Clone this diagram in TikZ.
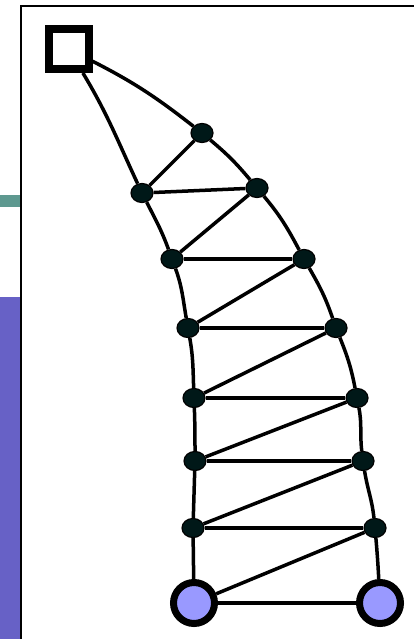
\documentclass[tikz,border=0pt]{standalone}
\usetikzlibrary{shapes.geometric}

\definecolor{stripteal}{RGB}{94,153,144}
\definecolor{strippurple}{RGB}{103,97,198}
\definecolor{jointfill}{RGB}{0,24,24}
\definecolor{supportfill}{RGB}{153,153,255}

\tikzset{
  joint/.style={ellipse,draw=black,line width=1.2bp,fill=jointfill,
    minimum width=22bp,minimum height=19bp,inner sep=0pt},
  support/.style={circle,draw=black,line width=7bp,fill=supportfill,
    minimum size=41bp,inner sep=0pt},
  fixed/.style={rectangle,draw=black,line width=8bp,fill=white,
    minimum size=40bp,inner sep=0pt},
  member/.style={black,line width=3.5bp},
}

\begin{document}
\begin{tikzpicture}[x=1bp,y=-1bp]
  \path[use as bounding box] (0,0) rectangle (414,639);
  \fill[white] (0,0) rectangle (414,639);

  % strips on the left and frame
  \fill[stripteal] (0,195) rectangle (20,207);
  \fill[strippurple] (0,297) rectangle (20,639);
  \draw[black,line width=2bp] (21,639) -- (21,6.5) -- (414,6.5);

  % fixed end
  \node[fixed] (sq) at (68.5,49) {};

  % left chord
  \node[joint] (l1) at (142,193) {};
  \node[joint] (l2) at (172,259) {};
  \node[joint] (l3) at (188,328) {};
  \node[joint] (l4) at (194,398) {};
  \node[joint] (l5) at (195,461) {};
  \node[joint] (l6) at (193,528) {};
  \node[support] (bl) at (194,603) {};

  % right chord
  \node[joint] (r1) at (202,133) {};
  \node[joint] (r2) at (257,188) {};
  \node[joint] (r3) at (304,259) {};
  \node[joint] (r4) at (336,328) {};
  \node[joint] (r5) at (357,398) {};
  \node[joint] (r6) at (363,461) {};
  \node[joint] (r7) at (375,528) {};
  \node[support] (br) at (380,603) {};

  \draw[member] (sq) to[out=-59,in=115] (l1) to[out=-63,in=110] (l2)
    to[out=-70,in=100] (l3) to[out=-80,in=92] (l4) to[out=-88,in=90] (l5)
    -- (l6) -- (bl);
  \draw[member] (sq) to[out=-27,in=142] (r1) to[out=-40,in=130] (r2)
    to[out=-50,in=118] (r3) to[out=-60,in=109] (r4) to[out=-68,in=101] (r5)
    to[out=-79,in=97] (r6) to[out=-81,in=96] (r7) to[out=-85,in=93] (br);

  % rungs and diagonals
  \foreach \a/\b in {l1/r2,l2/r3,l3/r4,l4/r5,l5/r6,l6/r7,bl/br}
    \draw[member] (\a) -- (\b);
  \foreach \a/\b in {l1/r1,l2/r2,l3/r3,l4/r4,l5/r5,l6/r6,bl/r7}
    \draw[member] (\a) -- (\b);
\end{tikzpicture}
\end{document}
